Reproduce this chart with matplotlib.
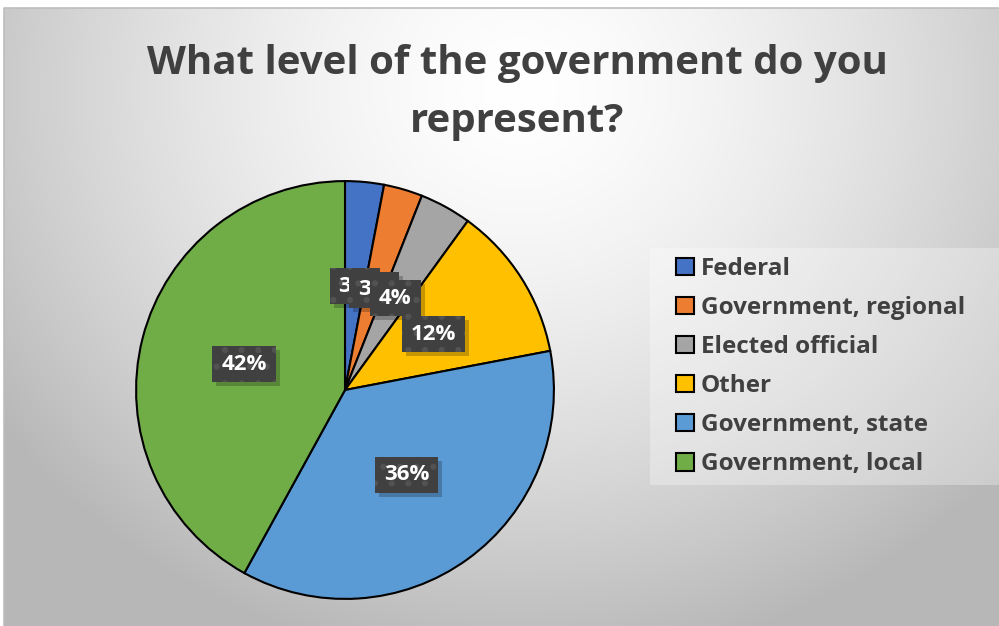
import numpy as np
import matplotlib.pyplot as plt
from matplotlib import transforms as mtrans
from matplotlib.patches import Rectangle

categories = ["Federal", "Government, regional", "Elected official",
              "Other", "Government, state", "Government, local"]
shares = [3, 3, 4, 12, 36, 42]
colors = ["#4472C4", "#ED7D31", "#A5A5A5", "#FFC000", "#5B9BD5", "#70AD47"]
title_lines = ["What level of the government do you", "represent?"]

plt.rcParams["font.family"] = ["Open Sans", "DejaVu Sans"]
plt.rcParams["hatch.linewidth"] = 2.0

W, H = 999, 626
fig = plt.figure(figsize=(W / 100, H / 100), dpi=100)

# background: white page with a radial grey gradient chart area
bg = fig.add_axes([0, 0, 1, 1])
bg.set_xlim(0, W)
bg.set_ylim(H, 0)
bg.axis("off")
yy, xx = np.mgrid[0:H, 0:W]
d = np.hypot((xx - 520) / 1.0, (yy - 90) * 1.1) / 620
shade = np.clip(1 - 0.27 * d ** 1.5, 0.72, 1)
img = np.dstack([shade, shade, shade])
img[:8, :] = 1
img[:, :4] = 1
bg.imshow(img, extent=(0, W, H, 0), aspect="auto", interpolation="bilinear")
bg.plot([4, 4, W], [H, 8, 8], color="#bdbdbd", lw=1.2)
# lighter panel behind the legend
bg.add_patch(Rectangle((650, 248), W - 650, 237, facecolor="white",
                       alpha=0.3, edgecolor="none"))

# pie
cx, cy, r = 345, 390, 211
ax = fig.add_axes([(cx - r) / W, 1 - (cy + r) / H, 2 * r / W, 2 * r / H])
wedges, texts = ax.pie(shares, colors=colors, startangle=90, counterclock=False,
                       radius=1.0, labels=[f"{v}%" for v in shares],
                       labeldistance=0.5,
                       wedgeprops=dict(edgecolor="black", linewidth=1.5))
ax.set_xlim(-1.01, 1.01)
ax.set_ylim(-1.01, 1.01)
ax.set_aspect("auto")
for i, t in enumerate(texts):
    t.set(color="white", ha="center", va="center", fontsize=16,
          fontweight="bold", zorder=7 + 3 * i)

# title
for line, base in zip(title_lines, [74, 132]):
    fig.text(517 / W, 1 - base / H, line, ha="center", va="baseline",
             fontsize=29, fontweight="bold", color="#404040")

# legend
leg = fig.legend(wedges, categories, loc="upper left",
                 bbox_to_anchor=(676 / W, 1 - 257 / H),
                 frameon=False, handlelength=0.72, handleheight=0.72,
                 handletextpad=0.3, labelspacing=0.62, borderpad=0,
                 borderaxespad=0, prop=dict(weight="bold", size=17.5))
for txt in leg.get_texts():
    txt.set_color("#404040")
for h in leg.legend_handles:
    h.set_linewidth(1.5)
    h.set_edgecolor("black")

# dark label boxes (with a drop shadow) sized from the rendered text
fig.canvas.draw()
rend = fig.canvas.get_renderer()
pix = mtrans.IdentityTransform()
for i, t in enumerate(texts):
    ext = t.get_window_extent(rend)
    bw, bh = ext.width + 18, 36
    x0 = (ext.x0 + ext.x1) / 2 - bw / 2
    y0 = (ext.y0 + ext.y1) / 2 - bh / 2
    ax.add_patch(Rectangle((x0 + 4, y0 - 4), bw, bh, transform=pix,
                           facecolor="black", alpha=0.22, edgecolor="none",
                           zorder=5 + 3 * i))
    ax.add_patch(Rectangle((x0, y0), bw, bh, transform=pix,
                           facecolor="#404040", edgecolor="#525252",
                           linewidth=0, hatch=".", zorder=6 + 3 * i))

fig.savefig("out.png", dpi=100)
